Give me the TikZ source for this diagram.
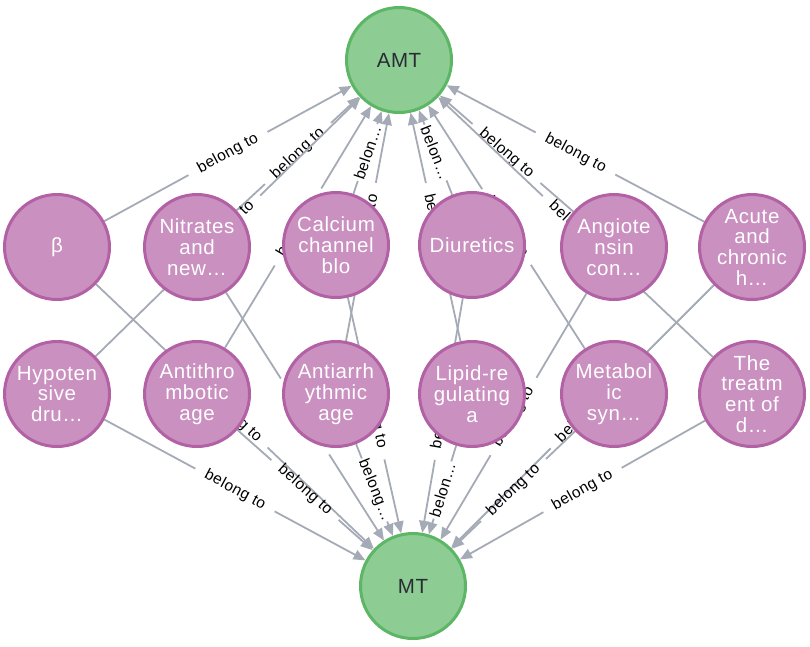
\documentclass[tikz,border=0pt]{standalone}
\usepackage{fontspec}
\newfontfamily\nfont{Liberation Sans}[LetterSpace=3.0]
\usetikzlibrary{arrows.meta,calc}
\definecolor{pinkfill}{HTML}{C990C0}
\definecolor{pinkdraw}{HTML}{B261A5}
\definecolor{greenfill}{HTML}{8DCC93}
\definecolor{greendraw}{HTML}{5DB665}
\definecolor{edgecol}{HTML}{A5ABB6}
\definecolor{darktext}{HTML}{2A2C34}
\pgfdeclarelayer{edgelayer}
\pgfsetlayers{edgelayer,main}
\tikzset{
  basenode/.style={circle, minimum size=105pt, inner sep=0pt, line width=3pt, align=center,
    font=\nfont\fontsize{20.5}{20.7}\selectfont},
  pnode/.style={basenode, draw=pinkdraw, fill=pinkfill, text=white},
  gnode/.style={basenode, draw=greendraw, fill=greenfill, text=darktext},
  rel/.style={draw=edgecol, line width=1.8pt},
  relarrow/.style={rel, -{Triangle[length=12pt,width=10pt]}},
  rlabel/.style={sloped, font=\nfont\fontsize{15.5}{16}\selectfont, text=black, inner sep=0pt},
}
\newcommand\belong[4]{%
  \coordinate (mid) at ($(#1.center)!0.5!(#2.center)$);
  \draw[rel] (#1) -- ($(mid)!#4!(#1.center)$);
  \draw[relarrow] ($(mid)!#4!(#2.center)$) -- (#2);
  \path (#1.center) -- (#2.center) node[midway, rlabel] {#3};
}
\begin{document}
\begin{tikzpicture}[x=1pt, y=-1pt]
\useasboundingbox (0,0) rectangle (810,646);
% hubs
\node[gnode] (amt) at (399,60) {AMT};
\node[gnode] (mt) at (413,586) {MT};
% row 1
\node[pnode] (beta) at (57,247) {β};
\node[pnode] (nitr) at (197,247) {Nitrates\\and\\new…};
\node[pnode] (calc) at (336,245) {Calcium\\channel\\blo};
\node[pnode] (diur) at (472,245) {Diuretics};
\node[pnode] (angi) at (614,247) {Angiote\\nsin\\con…};
\node[pnode] (acut) at (752,247) {Acute\\and\\chronic\\h…};
% row 2
\node[pnode] (hypo) at (57,394) {Hypoten\\sive\\dru…};
\node[pnode] (athr) at (197,394) {Antithro\\mbotic\\age};
\node[pnode] (aarr) at (336,394) {Antiarrh\\ythmic\\age};
\node[pnode] (lipi) at (472,394) {Lipid-re\\gulating\\a};
\node[pnode] (meta) at (614,394) {Metabol\\ic\\syn…};
\node[pnode] (trea) at (752,394) {The\\treatm\\ent of\\d…};
\begin{pgfonlayer}{edgelayer}
% to AMT
\belong{beta}{amt}{belong to}{45pt}
\belong{nitr}{amt}{belong to}{45pt}
\belong{calc}{amt}{belon…}{30pt}
\belong{diur}{amt}{belon…}{30pt}
\belong{angi}{amt}{belong to}{45pt}
\belong{acut}{amt}{belong to}{45pt}
\belong{hypo}{amt}{belong to}{45pt}
\belong{athr}{amt}{belong to}{45pt}
\belong{aarr}{amt}{belong to}{45pt}
\belong{lipi}{amt}{belong to}{45pt}
\belong{meta}{amt}{belong to}{45pt}
\belong{trea}{amt}{belong to}{45pt}
% to MT
\belong{beta}{mt}{belong to}{45pt}
\belong{nitr}{mt}{belong to}{45pt}
\belong{calc}{mt}{belong to}{45pt}
\belong{diur}{mt}{belong to}{45pt}
\belong{angi}{mt}{belong to}{45pt}
\belong{acut}{mt}{belong to}{45pt}
\belong{hypo}{mt}{belong to}{45pt}
\belong{athr}{mt}{belong to}{45pt}
\belong{aarr}{mt}{belong…}{34pt}
\belong{lipi}{mt}{belon…}{30pt}
\belong{meta}{mt}{belong to}{45pt}
\belong{trea}{mt}{belong to}{45pt}
\end{pgfonlayer}
\end{tikzpicture}
\end{document}
